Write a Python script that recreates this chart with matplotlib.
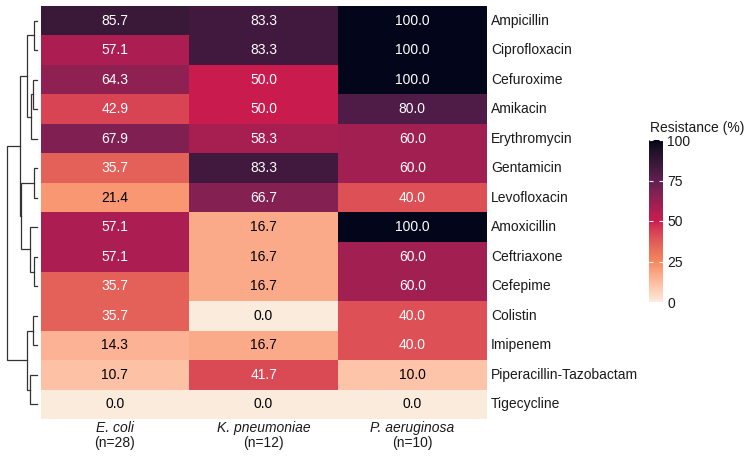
import numpy as np
import matplotlib
matplotlib.use("Agg")
import matplotlib.pyplot as plt
import seaborn as sns
from matplotlib.colors import Normalize, ListedColormap
import matplotlib.cm as cm

plt.rcParams['font.family'] = ['Liberation Sans', 'DejaVu Sans']

antibiotics = ["Ampicillin", "Ciprofloxacin", "Cefuroxime", "Amikacin", "Erythromycin",
               "Gentamicin", "Levofloxacin", "Amoxicillin", "Ceftriaxone", "Cefepime",
               "Colistin", "Imipenem", "Piperacillin-Tazobactam", "Tigecycline"]
species = ["E. coli", "K. pneumoniae", "P. aeruginosa"]
n_counts = ["(n=28)", "(n=12)", "(n=10)"]

e_coli = [85.7, 57.1, 64.3, 42.9, 67.9, 35.7, 21.4, 57.1, 57.1, 35.7, 35.7, 14.3, 10.7, 0.0]
k_pneumoniae = [83.3, 83.3, 50.0, 50.0, 58.3, 83.3, 66.7, 16.7, 16.7, 16.7, 0.0, 16.7, 41.7, 0.0]
p_aeruginosa = [100.0, 100.0, 100.0, 80.0, 60.0, 60.0, 40.0, 100.0, 60.0, 60.0, 40.0, 40.0, 10.0, 0.0]

# Row-clustering linkage (child_a, child_b, height); leaves 0..13, clusters from 14
linkage = [
    (0, 1, 3.3),
    (2, 3, 4.1),
    (15, 4, 6.3),
    (14, 16, 10.3),
    (5, 6, 3.3),
    (8, 9, 2.7),
    (7, 19, 7.0),
    (18, 20, 16.3),
    (17, 21, 17.0),
    (10, 11, 3.7),
    (12, 13, 7.0),
    (23, 24, 9.7),
    (22, 25, 30.3),
]

data = np.array([e_coli, k_pneumoniae, p_aeruginosa]).T
nrow, ncol = data.shape


# ---- colour scale: 5 rocket anchors (reversed), interpolated in CIE Lab ----
def srgb_to_lab(rgb):
    rgb = np.asarray(rgb, float)
    lin = np.where(rgb <= 0.04045, rgb / 12.92, ((rgb + 0.055) / 1.055) ** 2.4)
    M = np.array([[0.4124564, 0.3575761, 0.1804375],
                  [0.2126729, 0.7151522, 0.0721750],
                  [0.0193339, 0.1191920, 0.9503041]])
    xyz = lin @ M.T
    wp = np.array([0.95047, 1.0, 1.08883])
    t = xyz / wp
    d = 6 / 29
    f = np.where(t > d ** 3, np.cbrt(t), t / (3 * d ** 2) + 4 / 29)
    L = 116 * f[:, 1] - 16
    a = 500 * (f[:, 0] - f[:, 1])
    b = 200 * (f[:, 1] - f[:, 2])
    return np.stack([L, a, b], axis=1)


def lab_to_srgb(lab):
    L, a, b = lab[:, 0], lab[:, 1], lab[:, 2]
    fy = (L + 16) / 116
    fx = fy + a / 500
    fz = fy - b / 200
    d = 6 / 29

    def finv(f):
        return np.where(f > d, f ** 3, 3 * d ** 2 * (f - 4 / 29))
    wp = np.array([0.95047, 1.0, 1.08883])
    xyz = np.stack([finv(fx), finv(fy), finv(fz)], axis=1) * wp
    Minv = np.array([[3.2404542, -1.5371385, -0.4985314],
                     [-0.9692660, 1.8760108, 0.0415560],
                     [0.0556434, -0.2040259, 1.0572252]])
    lin = xyz @ Minv.T
    lin = np.clip(lin, 0, 1)
    rgb = np.where(lin <= 0.0031308, 12.92 * lin, 1.055 * lin ** (1 / 2.4) - 0.055)
    return np.clip(rgb, 0, 1)


rocket = sns.color_palette("rocket", as_cmap=True)
n_anchor = 5
anchors = np.array([rocket(p)[:3] for p in np.linspace(0, 1, n_anchor)])[::-1]
anchor_lab = srgb_to_lab(anchors)
xs = np.linspace(0, 1, 256)
anchor_pos = np.linspace(0, 1, n_anchor)
lab_interp = np.stack([np.interp(xs, anchor_pos, anchor_lab[:, k]) for k in range(3)], axis=1)
cmap = ListedColormap(lab_to_srgb(lab_interp))
norm = Normalize(vmin=0, vmax=100)

W, H = 750, 458
fig = plt.figure(figsize=(W / 100, H / 100), dpi=100)


def px_axes(x0, y0, x1, y1):
    return fig.add_axes([x0 / W, 1 - y1 / H, (x1 - x0) / W, (y1 - y0) / H])


# Heatmap
ax = px_axes(40.5, 6, 486.7, 419)
ax.pcolormesh(np.arange(ncol + 1), np.arange(nrow + 1), data, cmap=cmap, norm=norm)
ax.set_xlim(0, ncol)
ax.set_ylim(nrow, 0)
for s in ax.spines.values():
    s.set_visible(False)
ax.set_xticks([])
ax.set_yticks([])
for i in range(nrow):
    for j in range(ncol):
        v = data[i, j]
        ax.text(j + 0.5, i + 0.5, f"{v:.1f}", ha='center', va='center', fontsize=10,
                color='white' if v > 30 else 'black')
    ax.annotate(antibiotics[i], xy=(1, i + 0.5), xycoords=('axes fraction', 'data'),
                xytext=(3, 0), textcoords='offset points', ha='left', va='center',
                fontsize=10, color='#1a1a1a')
for j in range(ncol):
    ax.annotate(species[j], xy=(j + 0.5, 0), xycoords=('data', 'axes fraction'),
                xytext=(0, -6.8), textcoords='offset points', ha='center', va='center',
                fontsize=10, style='italic', color='#1a1a1a')
    ax.annotate(n_counts[j], xy=(j + 0.5, 0), xycoords=('data', 'axes fraction'),
                xytext=(0, -17.6), textcoords='offset points', ha='center', va='center',
                fontsize=10, color='#1a1a1a')

# Dendrogram
dax = px_axes(6.7, 6, 37, 419)
dax.set_xlim(30.3, 0)
dax.set_ylim(nrow, 0)
dax.axis('off')
pos = {i: (0.0, i + 0.5) for i in range(nrow)}
for k, (a, b, h) in enumerate(linkage):
    ha_, ya = pos[a]
    hb_, yb = pos[b]
    dax.plot([ha_, h, h, hb_], [ya, ya, yb, yb], color='#333333', lw=0.9,
             solid_joinstyle='miter', clip_on=False)
    pos[nrow + k] = (h, (ya + yb) / 2)

# Colorbar
cax = px_axes(649, 140, 663, 302)
cb = fig.colorbar(cm.ScalarMappable(norm=norm, cmap=cmap), cax=cax)
cb.outline.set_visible(False)
cb.set_ticks([0, 25, 50, 75, 100])
cax.tick_params(axis='y', which='both', direction='in', length=3, width=0.8,
                colors='white', left=True, right=True, labelsize=10, pad=3)
for t in cax.get_yticklabels():
    t.set_color('#1a1a1a')
fig.text(650 / W, 1 - 128 / H, "Resistance (%)", ha='left', va='center', fontsize=10,
         color='#1a1a1a')

fig.savefig("out.png", dpi=100)
